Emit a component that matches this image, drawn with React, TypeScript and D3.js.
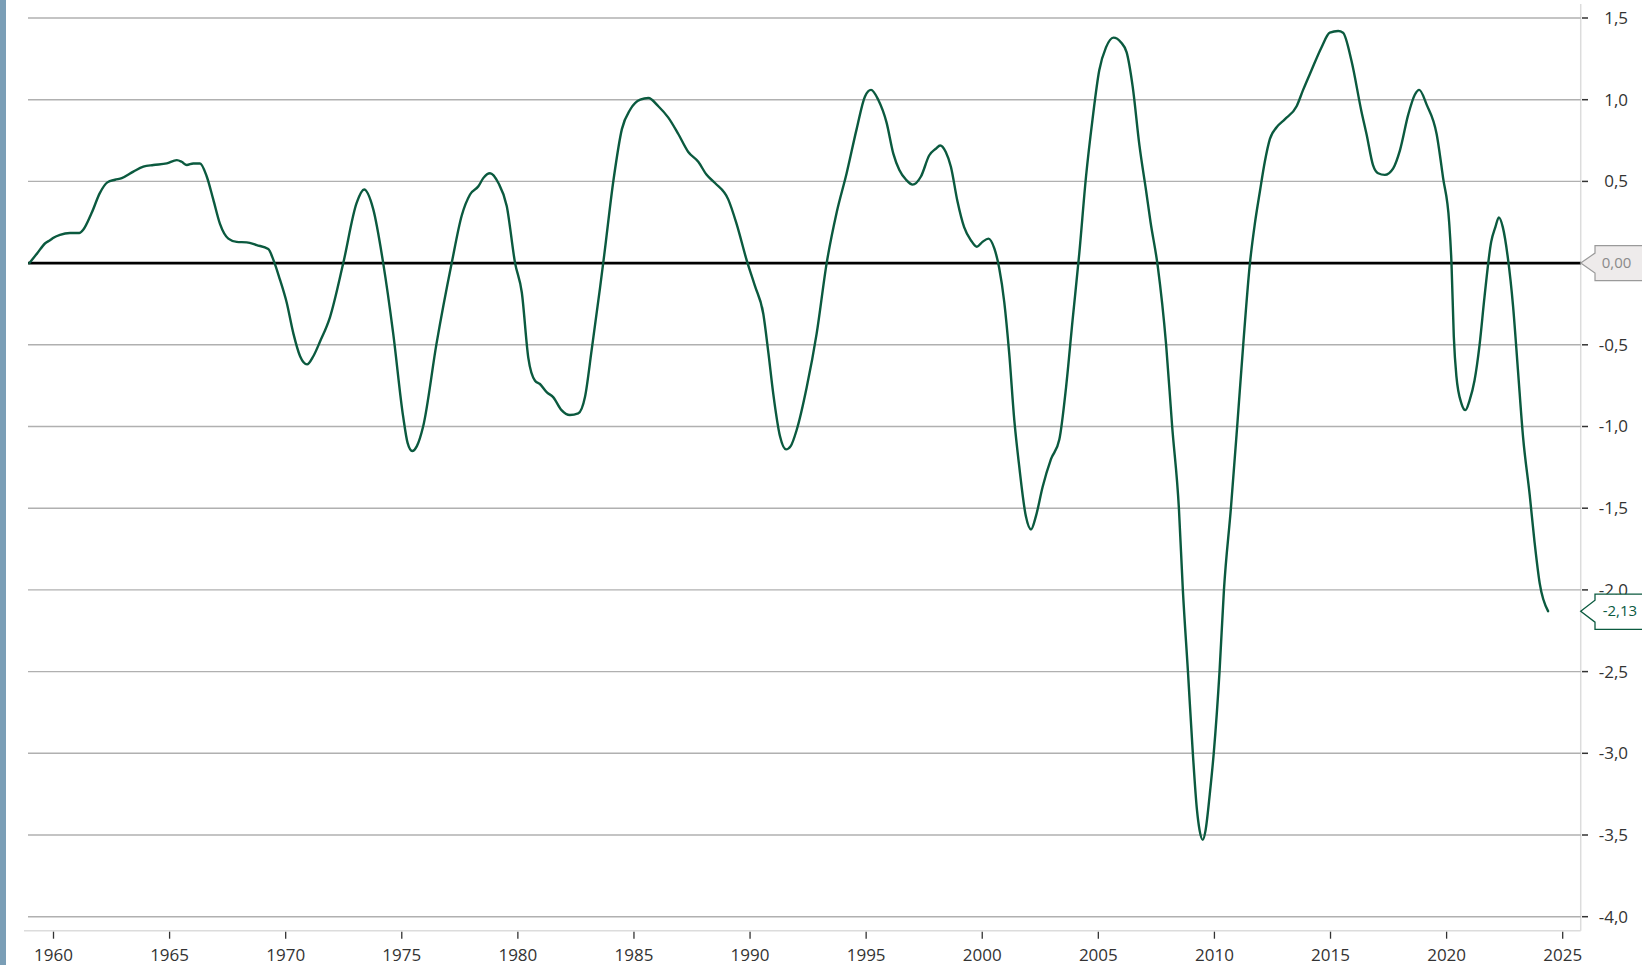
import React from "react";
import * as d3 from "d3";

const years: number[] = [
  1958.96, 1959.3, 1959.63, 1959.85, 1960.0, 1960.28, 1960.71, 1961.11, 1961.28, 1961.64,
  1962.0, 1962.32, 1962.65, 1962.94, 1963.44, 1963.87, 1964.3, 1964.88, 1965.31, 1965.52,
  1965.74, 1966.02, 1966.31, 1966.6, 1966.88, 1967.17, 1967.53, 1967.89, 1968.32, 1968.75,
  1969.25, 1969.47, 1969.75, 1970.04, 1970.33, 1970.62, 1970.92, 1971.19, 1971.48, 1971.91,
  1972.48, 1973.06, 1973.38, 1973.77, 1974.2, 1974.63, 1975.06, 1975.25, 1975.45, 1975.65,
  1975.92, 1976.5, 1977.15, 1977.58, 1977.94, 1978.3, 1978.51, 1978.8, 1979.16, 1979.52,
  1979.88, 1980.17, 1980.45, 1980.74, 1980.95, 1981.24, 1981.52, 1981.88, 1982.24, 1982.6,
  1982.89, 1983.18, 1983.54, 1983.72, 1984.12, 1984.48, 1984.84, 1985.27, 1985.62, 1986.05,
  1986.48, 1986.91, 1987.34, 1987.77, 1988.13, 1988.49, 1989.06, 1989.42, 1989.85, 1990.21,
  1990.57, 1990.79, 1991.0, 1991.29, 1991.55, 1991.75, 1992.01, 1992.44, 1992.87, 1993.3,
  1993.73, 1994.16, 1994.59, 1994.95, 1995.21, 1995.52, 1995.88, 1996.17, 1996.43, 1996.72,
  1997.0, 1997.36, 1997.72, 1998.0, 1998.19, 1998.43, 1998.65, 1998.93, 1999.22, 1999.51,
  1999.77, 2000.01, 2000.27, 2000.52, 2000.73, 2000.95, 2001.16, 2001.38, 2001.59, 2001.88,
  2002.1, 2002.31, 2002.6, 2002.96, 2003.32, 2003.61, 2003.89, 2004.18, 2004.47, 2004.75,
  2005.04, 2005.33, 2005.65, 2005.98, 2006.22, 2006.48, 2006.77, 2007.06, 2007.25, 2007.56,
  2007.92, 2008.18, 2008.47, 2008.64, 2008.86, 2009.07, 2009.25, 2009.36, 2009.5, 2009.62,
  2009.8, 2009.97, 2010.22, 2010.41, 2010.71, 2010.98, 2011.24, 2011.53, 2011.74, 2011.96,
  2012.17, 2012.39, 2012.67, 2013.03, 2013.54, 2013.82, 2014.18, 2014.61, 2014.97, 2015.33,
  2015.54, 2015.9, 2016.33, 2016.55, 2016.83, 2017.05, 2017.34, 2017.7, 2017.99, 2018.35,
  2018.63, 2018.82, 2019.14, 2019.57, 2019.85, 2020.11, 2020.21, 2020.31, 2020.42, 2020.64,
  2020.81, 2020.99, 2021.2, 2021.42, 2021.63, 2021.92, 2022.1, 2022.25, 2022.42, 2022.64,
  2022.86, 2023.07, 2023.29, 2023.58, 2023.79, 2024.01, 2024.37,
];

const values: number[] = [
  0.0, 0.06, 0.12, 0.14, 0.155, 0.173, 0.184, 0.184, 0.204, 0.306,
  0.43, 0.494, 0.51, 0.52, 0.56, 0.59, 0.6, 0.61, 0.63, 0.62,
  0.6, 0.61, 0.61, 0.53, 0.39, 0.24, 0.15, 0.13, 0.127, 0.11,
  0.086, 0.02, -0.1, -0.24, -0.43, -0.57, -0.62, -0.57, -0.48, -0.33,
  0.0, 0.37, 0.45, 0.33, 0.0, -0.43, -0.94, -1.1, -1.15, -1.12,
  -1.0, -0.49, 0.0, 0.29, 0.42, 0.47, 0.52, 0.55, 0.49, 0.35,
  0.0, -0.18, -0.58, -0.72, -0.74, -0.79, -0.82, -0.9, -0.93, -0.92,
  -0.82, -0.53, -0.15, 0.05, 0.51, 0.82, 0.94, 1.0, 1.01, 0.96,
  0.89, 0.79, 0.68, 0.62, 0.54, 0.49, 0.39, 0.24, 0.02, -0.14,
  -0.31, -0.55, -0.8, -1.06, -1.14, -1.12, -1.02, -0.76, -0.43, 0.0,
  0.31, 0.55, 0.82, 1.02, 1.06, 1.0, 0.86, 0.67, 0.57, 0.51,
  0.48, 0.53, 0.66, 0.7, 0.72, 0.68, 0.59, 0.38, 0.22, 0.14,
  0.1, 0.13, 0.15, 0.09, -0.03, -0.24, -0.55, -0.96, -1.24, -1.55,
  -1.63, -1.55, -1.37, -1.2, -1.08, -0.76, -0.35, 0.06, 0.53, 0.88,
  1.18, 1.32, 1.38, 1.35, 1.29, 1.08, 0.72, 0.44, 0.25, -0.02,
  -0.5, -1.0, -1.5, -2.0, -2.5, -3.0, -3.35, -3.47, -3.53, -3.47,
  -3.25, -3.0, -2.5, -2.0, -1.5, -1.0, -0.5, 0.0, 0.24, 0.44,
  0.62, 0.76, 0.83, 0.88, 0.96, 1.06, 1.18, 1.32, 1.41, 1.42,
  1.41, 1.24, 0.93, 0.79, 0.6, 0.55, 0.54, 0.58, 0.69, 0.91,
  1.03, 1.06, 0.97, 0.79, 0.52, 0.25, 0.0, -0.45, -0.69, -0.86,
  -0.9, -0.84, -0.72, -0.5, -0.21, 0.13, 0.22, 0.28, 0.22, 0.03,
  -0.26, -0.65, -1.06, -1.42, -1.71, -1.96, -2.13,
];

const xTickYears: number[] = [1960, 1965, 1970, 1975, 1980, 1985, 1990, 1995, 2000, 2005, 2010, 2015, 2020, 2025];
const yTickValues: number[] = [1.5, 1.0, 0.5, 0.0, -0.5, -1.0, -1.5, -2.0, -2.5, -3.0, -3.5, -4.0];
const zeroLabel = "0,00";
const lastLabel = "-2,13";

const W = 1642;
const H = 965;
const FONT = "'Open Sans', 'Noto Sans', sans-serif";
const LINE_COLOR = "#0B5A3F";

const fmt = (v: number) => v.toFixed(1).replace(".", ",");

export default function App() {
  const x = d3.scaleLinear().domain([1960, 2025]).range([53.5, 1562.7]);
  const y = d3.scaleLinear().domain([-4, 1.5]).range([916.7, 18]);

  const plotLeft = 28;
  const plotRight = 1580.7;
  const plotBottom = 930.7;

  const pts = years.map((yr, i) => [yr, values[i]] as [number, number]);
  const line = d3
    .line<[number, number]>()
    .x((d) => x(d[0]))
    .y((d) => y(d[1]))
    .curve(d3.curveMonotoneX);
  const path = line(pts) || "";

  const lastVal = values[values.length - 1];
  const yZero = y(0);
  const yLast = y(lastVal);

  const calloutPath = (yc: number, top: number, bottom: number, half: number) => {
    const tip = plotRight;
    const bx = 1595;
    const right = 1660;
    return `M${tip},${yc} L${bx},${yc - half} L${bx},${top} L${right},${top} L${right},${bottom} L${bx},${bottom} L${bx},${yc + half} Z`;
  };

  return (
    <div style={{ position: "fixed", left: 0, top: 0, width: W, height: H, overflow: "hidden", background: "#fff" }}>
      <svg width={W} height={H} style={{ display: "block" }} fontFamily={FONT}>
        <rect x={0} y={0} width={W} height={H} fill="#ffffff" />
        <rect x={0} y={0} width={6} height={H} fill="#7A9EB6" />

        {/* borders */}
        <line x1={24} x2={plotRight} y1={plotBottom} y2={plotBottom} stroke="#DCDCDC" strokeWidth={1.5} />
        <line x1={plotRight} x2={plotRight} y1={4} y2={plotBottom} stroke="#DCDCDC" strokeWidth={1.5} />

        {/* grid */}
        {yTickValues.filter((v) => v !== 0).map((v) => (
          <line key={"g" + v} x1={plotLeft} x2={plotRight} y1={y(v)} y2={y(v)} stroke="#B0B0B0" strokeWidth={1.4} />
        ))}

        {/* y ticks and labels (0,0 label is hidden behind the 0,00 callout) */}
        {yTickValues.map((v) => (
          <g key={"yt" + v}>
            <line x1={1582} x2={1588} y1={y(v)} y2={y(v)} stroke="#333" strokeWidth={1.5} />
            {v !== 0 && (
              <text x={1628} y={y(v)} dy="0.35em" textAnchor="end" fontSize={17} fill="#333">
                {fmt(v)}
              </text>
            )}
          </g>
        ))}

        {/* x ticks and labels */}
        {xTickYears.map((yr) => (
          <g key={"xt" + yr}>
            <line x1={x(yr)} x2={x(yr)} y1={plotBottom + 1} y2={plotBottom + 8} stroke="#333" strokeWidth={1.3} />
            <text x={x(yr)} y={961} textAnchor="middle" fontSize={17} fill="#333">
              {yr}
            </text>
          </g>
        ))}

        {/* zero line */}
        <line x1={plotLeft} x2={plotRight} y1={yZero} y2={yZero} stroke="#000" strokeWidth={2.6} />

        {/* series */}
        <path d={path} fill="none" stroke={LINE_COLOR} strokeWidth={2.4} strokeLinejoin="round" strokeLinecap="round" />

        {/* callouts */}
        <path d={calloutPath(yZero, yZero - 17.5, yZero + 17.5, 10)} fill="#EEEBEB" stroke="#9A9A9A" strokeWidth={1.2} />
        <text x={1601.7} y={yZero} dy="0.35em" fontSize={15} fill="#8A8A8A">
          {zeroLabel}
        </text>
        <path d={calloutPath(yLast, yLast - 17, yLast + 18.3, 11)} fill="#ffffff" stroke={LINE_COLOR} strokeWidth={1.3} />
        <text x={1602.7} y={yLast} dy="0.35em" fontSize={15} fill={LINE_COLOR}>
          {lastLabel}
        </text>
      </svg>
    </div>
  );
}
